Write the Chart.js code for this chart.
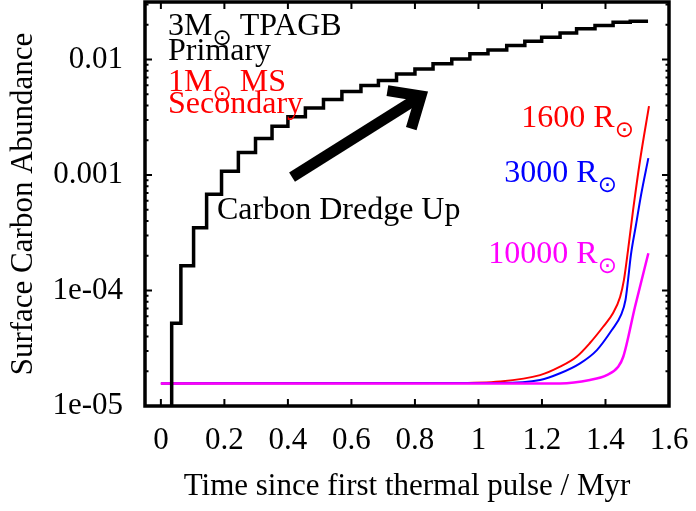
<!DOCTYPE html>
<html>
<head>
<meta charset="utf-8">
<script src="https://cdn.jsdelivr.net/npm/chart.js@4.4.0/dist/chart.umd.min.js"></script>
<style>
  html, body { margin: 0; padding: 0; background: #fff; }
  canvas { display: block; }
</style>
</head>
<body>
<canvas id="myChart" width="696" height="511"></canvas>
<script>
const FONT = 'Liberation Serif';

// primary (3 Msun TPAGB) surface carbon, one step per thermal pulse
const pulseTimes = [0.034, 0.063, 0.103, 0.144, 0.191, 0.244, 0.298, 0.350, 0.400, 0.455,
  0.512, 0.570, 0.630, 0.685, 0.742, 0.800, 0.857, 0.916, 0.973, 1.030,
  1.089, 1.146, 1.199, 1.257, 1.309, 1.367, 1.424, 1.478];
const primaryCarbon = [5.2e-5, 1.64e-4, 3.5e-4, 6.8e-4, 1.08e-3, 1.57e-3, 2.07e-3, 2.65e-3, 3.2e-3, 3.8e-3,
  4.5e-3, 5.3e-3, 5.95e-3, 6.6e-3, 7.5e-3, 8.3e-3, 9.2e-3, 1.01e-2, 1.12e-2, 1.21e-2,
  1.32e-2, 1.44e-2, 1.56e-2, 1.70e-2, 1.85e-2, 1.97e-2, 2.10e-2, 2.15e-2];
const primaryEnd = 1.534;
const primaryFloor = 8e-6;

// secondary (1 Msun MS) surface carbon for three separations
const t1600 = [0, 0.910, 1.068, 1.194, 1.257, 1.309, 1.351, 1.392, 1.424, 1.446, 1.458, 1.471, 1.487, 1.509, 1.537];
const c1600 = [1.57e-5, 1.58e-5, 1.63e-5, 1.85e-5, 2.19e-5, 2.67e-5, 3.51e-5, 4.83e-5, 6.38e-5, 8.79e-5, 1.23e-4, 2.24e-4, 4.98e-4, 1.35e-3, 3.95e-3];
const t3000 = [0, 1.068, 1.194, 1.257, 1.320, 1.373, 1.420, 1.449, 1.463, 1.471, 1.480, 1.496, 1.512, 1.535];
const c3000 = [1.57e-5, 1.58e-5, 1.68e-5, 1.92e-5, 2.34e-5, 3.05e-5, 4.55e-5, 6.14e-5, 8.28e-5, 1.23e-4, 2.03e-4, 3.69e-4, 6.72e-4, 1.40e-3];
const t10000 = [0, 1.257, 1.351, 1.404, 1.440, 1.456, 1.493, 1.535];
const c10000 = [1.57e-5, 1.57e-5, 1.68e-5, 1.85e-5, 2.19e-5, 2.67e-5, 7.24e-5, 2.10e-4];

const xTickValues = [0, 0.2, 0.4, 0.6, 0.8, 1, 1.2, 1.4, 1.6];
const xTickLabels = ['0', '0.2', '0.4', '0.6', '0.8', '1', '1.2', '1.4', '1.6'];
const yTickValues = [1e-5, 1e-4, 1e-3, 1e-2];
const yTickLabels = ['1e-05', '1e-04', '0.001', '0.01'];

function toPoints(xs, ys) {
  return xs.map((x, i) => ({ x: x, y: ys[i] }));
}

let primaryPts = [{ x: pulseTimes[0], y: primaryFloor }].concat(toPoints(pulseTimes, primaryCarbon));
primaryPts.push({ x: primaryEnd, y: primaryCarbon[primaryCarbon.length - 1] });

// text with a subscript sun symbol, pieces drawn one after another
function drawParts(ctx, parts, x, y, align, color) {
  const main = '32px "' + FONT + '"';
  const sub = '23px "DejaVu Sans"';
  let total = 0;
  parts.forEach(p => { ctx.font = p.sub ? sub : main; total += ctx.measureText(p.t).width; });
  let cx = align === 'right' ? x - total : x;
  ctx.fillStyle = color;
  ctx.textAlign = 'left';
  ctx.textBaseline = 'alphabetic';
  parts.forEach(p => {
    ctx.font = p.sub ? sub : main;
    ctx.fillText(p.t, cx, p.sub ? y + 10 : y);
    cx += ctx.measureText(p.t).width;
  });
}

const gnuplotLook = {
  id: 'gnuplotLook',
  afterDatasetsDraw(chart) {
    const { ctx, chartArea: a, scales: { x, y } } = chart;
    const P = (t, v) => [x.getPixelForValue(t), y.getPixelForValue(v)];
    ctx.save();

    // tick marks, inward, on all four sides
    ctx.strokeStyle = '#000';
    ctx.lineWidth = 2;
    ctx.beginPath();
    xTickValues.forEach(v => {
      const px = x.getPixelForValue(v);
      ctx.moveTo(px, a.bottom); ctx.lineTo(px, a.bottom - 7);
      ctx.moveTo(px, a.top); ctx.lineTo(px, a.top + 7);
    });
    for (let e = -5; e <= -2; e++) {
      for (let m = 1; m <= 9; m++) {
        const v = m * Math.pow(10, e);
        if (v > y.max) break;
        const py = y.getPixelForValue(v);
        const len = m === 1 ? 7 : 3.5;
        ctx.moveTo(a.left, py); ctx.lineTo(a.left + len, py);
        ctx.moveTo(a.right, py); ctx.lineTo(a.right - len, py);
      }
    }
    ctx.stroke();

    // frame
    ctx.lineWidth = 3.5;
    ctx.strokeRect(a.left, a.top, a.right - a.left, a.bottom - a.top);

    // dredge-up arrow
    const tail = P(0.413, 9.6e-4);
    const tip = P(0.819, 4.83e-3);
    const ang = Math.atan2(tip[1] - tail[1], tip[0] - tail[0]);
    const head = 34, spread = 0.72;
    ctx.lineWidth = 11;
    ctx.lineCap = 'butt';
    ctx.lineJoin = 'miter';
    ctx.beginPath();
    ctx.moveTo(tail[0], tail[1]);
    ctx.lineTo(tip[0], tip[1]);
    ctx.stroke();
    ctx.beginPath();
    ctx.moveTo(tip[0] - head * Math.cos(ang - spread), tip[1] - head * Math.sin(ang - spread));
    ctx.lineTo(tip[0], tip[1]);
    ctx.lineTo(tip[0] - head * Math.cos(ang + spread), tip[1] - head * Math.sin(ang + spread));
    ctx.stroke();

    // labels
    let p = P(0.0224, 0.01629);
    drawParts(ctx, [{ t: '3M' }, { t: '\u2299', sub: true }, { t: ' TPAGB' }], p[0], p[1], 'left', '#000');
    p = P(0.0224, 9.9e-3);
    drawParts(ctx, [{ t: 'Primary' }], p[0], p[1], 'left', '#000');
    p = P(0.0224, 5.37e-3);
    drawParts(ctx, [{ t: '1M' }, { t: '\u2299', sub: true }, { t: ' MS' }], p[0], p[1], 'left', '#ff0000');
    p = P(0.0224, 3.44e-3);
    drawParts(ctx, [{ t: 'Secondary' }], p[0], p[1], 'left', '#ff0000');
    p = P(0.1767, 4.16e-4);
    drawParts(ctx, [{ t: 'Carbon Dredge Up' }], p[0], p[1], 'left', '#000');
    p = P(1.4897, 2.62e-3);
    drawParts(ctx, [{ t: '1600 R' }, { t: '\u2299', sub: true }], p[0], p[1], 'right', '#ff0000');
    p = P(1.436, 8.75e-4);
    drawParts(ctx, [{ t: '3000 R' }, { t: '\u2299', sub: true }], p[0], p[1], 'right', '#0000ff');
    p = P(1.436, 1.73e-4);
    drawParts(ctx, [{ t: '10000 R' }, { t: '\u2299', sub: true }], p[0], p[1], 'right', '#ff00ff');

    ctx.restore();
  }
};

const ctx = document.getElementById('myChart').getContext('2d');

new Chart(ctx, {
  type: 'line',
  data: {
    datasets: [
      {
        label: '3M TPAGB primary',
        data: primaryPts,
        borderColor: '#000',
        borderWidth: 3.5,
        stepped: 'before',
        pointRadius: 0,
        fill: false
      },
      {
        label: '10000 R',
        data: toPoints(t10000, c10000),
        borderColor: '#ff00ff',
        borderWidth: 2.5,
        cubicInterpolationMode: 'monotone',
        pointRadius: 0,
        fill: false
      },
      {
        label: '3000 R',
        data: toPoints(t3000, c3000),
        borderColor: '#0000ff',
        borderWidth: 2,
        cubicInterpolationMode: 'monotone',
        pointRadius: 0,
        fill: false
      },
      {
        label: '1600 R',
        data: toPoints(t1600, c1600),
        borderColor: '#ff0000',
        borderWidth: 2,
        cubicInterpolationMode: 'monotone',
        pointRadius: 0,
        fill: false
      }
    ]
  },
  options: {
    responsive: false,
    animation: false,
    devicePixelRatio: 1,
    layout: { padding: { top: 2, right: 27, bottom: 0, left: 0 } },
    plugins: {
      legend: { display: false },
      tooltip: { enabled: false }
    },
    scales: {
      x: {
        type: 'linear',
        min: -0.05,
        max: 1.6,
        afterBuildTicks: s => { s.ticks = xTickValues.map(v => ({ value: v })); },
        afterFit: s => { s.height = 105; s.paddingLeft = 0; s.paddingRight = 0; },
        grid: { display: false, drawTicks: false },
        border: { display: false },
        ticks: {
          autoSkip: false,
          maxRotation: 0,
          padding: 16,
          color: '#000',
          font: { family: FONT, size: 31 },
          callback: (v, i) => xTickLabels[i]
        },
        title: {
          display: true,
          text: 'Time since first thermal pulse / Myr',
          color: '#000',
          font: { family: FONT, size: 31 },
          padding: { top: 0, bottom: 6 }
        }
      },
      y: {
        type: 'logarithmic',
        min: 1e-5,
        max: 0.0315,
        afterBuildTicks: s => { s.ticks = yTickValues.map(v => ({ value: v })); },
        afterFit: s => { s.width = 145; s.paddingTop = 0; s.paddingBottom = 0; },
        grid: { display: false, drawTicks: false },
        border: { display: false },
        ticks: {
          autoSkip: false,
          padding: 22,
          color: '#000',
          font: { family: FONT, size: 31 },
          callback: (v, i) => yTickLabels[i]
        },
        title: {
          display: true,
          text: 'Surface Carbon Abundance',
          color: '#000',
          font: { family: FONT, size: 31 },
          padding: { top: 5, bottom: 0 }
        }
      }
    }
  },
  plugins: [gnuplotLook]
});
</script>
</body>
</html>
